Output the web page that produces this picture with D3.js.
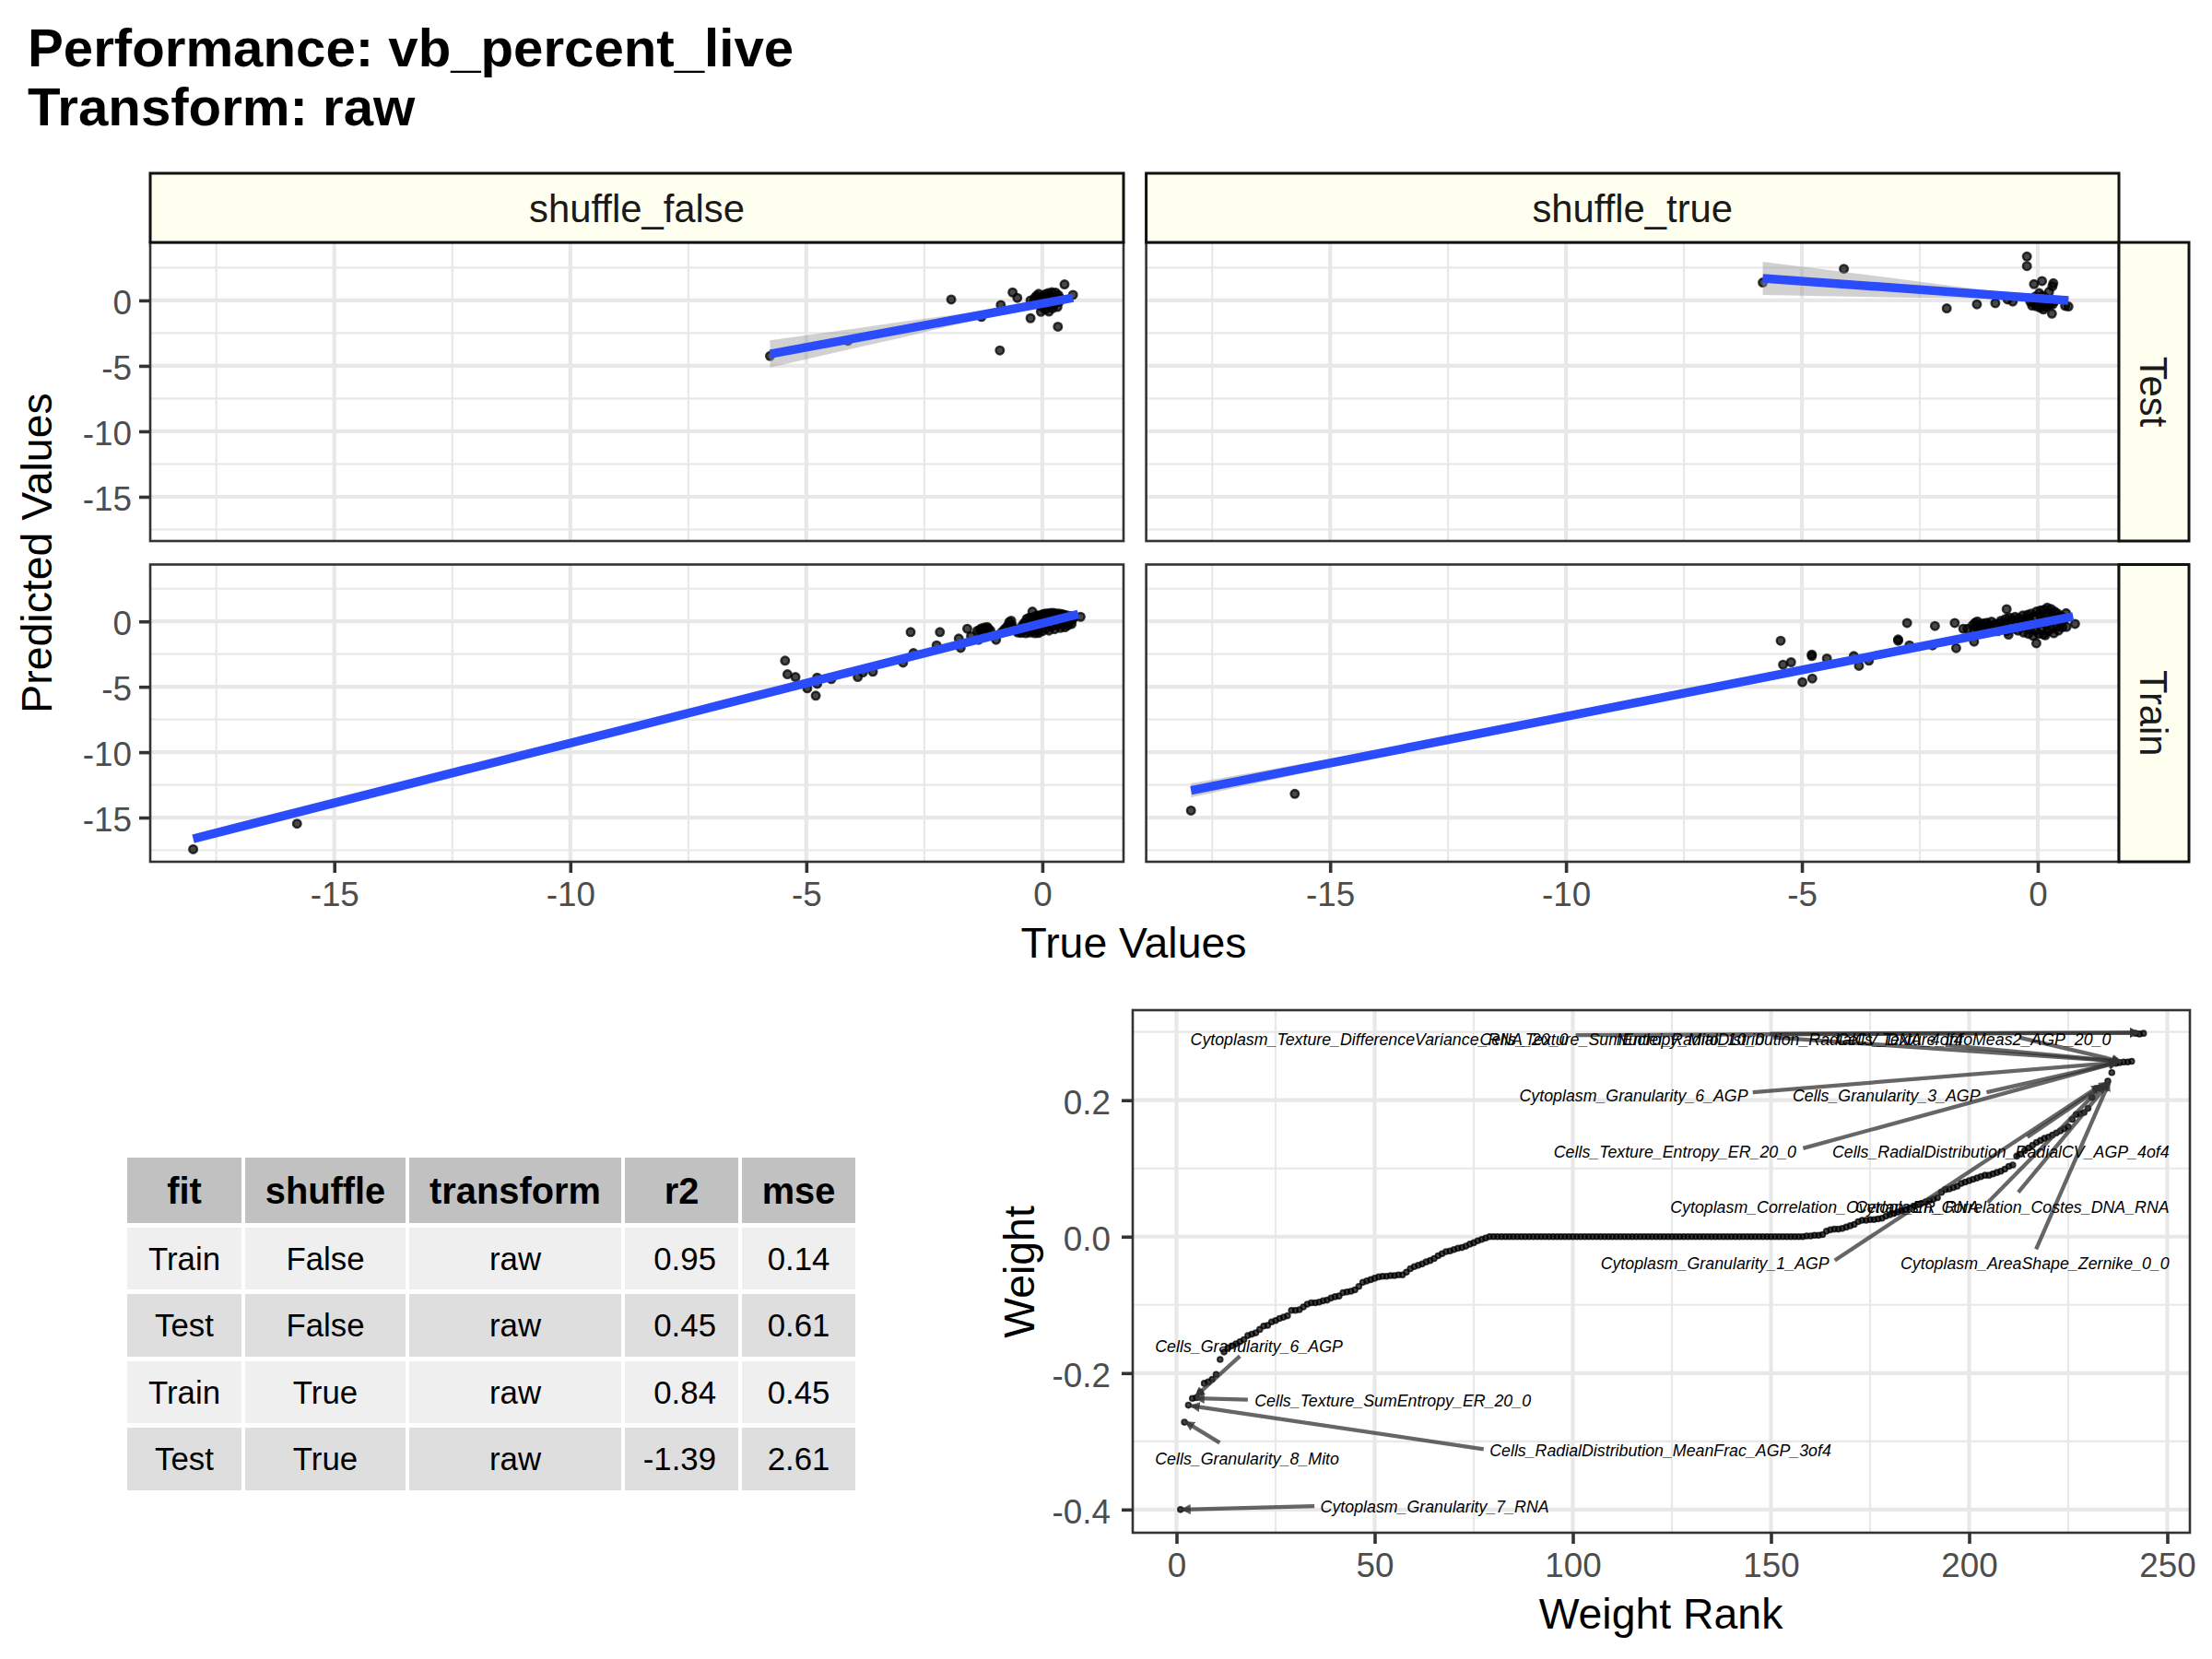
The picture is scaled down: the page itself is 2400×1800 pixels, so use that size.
<!DOCTYPE html>
<html>
<head>
<meta charset="utf-8">
<script src="https://cdn.jsdelivr.net/npm/d3@7"></script>
<style>
  body { margin: 0; background: #fff; }
  text { font-family: "Liberation Sans", Arial, sans-serif; }
  .tick text { fill: #4d4d4d; }
  .tick line { stroke: #333; }
  .domain { display: none; }
</style>
</head>
<body>
<svg id="vis" width="2400" height="1800"></svg>
<script>
// facets
let columns = ["shuffle_false", "shuffle_true"];
let rows = ["Test", "Train"];

let xMajor = [-15, -10, -5, 0];
let xMinor = [-17.5, -12.5, -7.5, -2.5];
let yMajor = [0, -5, -10, -15];
let yMinor = [2.5, -2.5, -7.5, -12.5, -17.5];

// [true, predicted]
let testFalsePoints = [[-5.77,-4.25],[-4.12,-3.09],[-1.93,0.07],[-1.29,-1.26],[-0.90,-3.82],[-0.88,-0.35],[-0.63,0.61],[-0.53,0.19],[-0.25,-1.36],[-0.25,0.0],[-0.03,-0.87],[0.33,-2.01],[0.47,1.22],[0.65,0.42],
  [-0.18,-0.05],[-0.16,0.2],[-0.12,0.35],[-0.10,-0.3],[-0.08,0.5],[-0.05,0.1],[-0.03,-0.45],[0.0,0.28],[0.02,-0.15],[0.05,0.45],[0.06,-0.7],[0.08,0.15],[0.1,-0.35],[0.12,0.55],[0.14,-0.85],[0.16,0.3],[0.18,-0.1],[0.2,0.62],[0.22,-0.6],[0.24,0.2],[0.26,-0.3],[0.28,0.6],[0.3,0.05],[0.32,-0.5],[0.34,0.4],[0.36,-0.1],[0.38,0.15]];
let testTruePoints = [[-5.83,1.36],[-4.11,2.41],[-1.93,-0.61],[-1.29,-0.30],[-0.90,-0.21],[-0.64,0.07],[-0.53,-0.09],[-0.23,3.35],[-0.23,2.62],[-0.08,1.24],[0.09,1.48],[0.33,1.31],[0.31,1.08],[0.24,0.66],[0.30,-1.01],[0.65,-0.47],[0.58,-0.42],
  [-0.16,-0.1],[-0.12,-0.4],[-0.10,0.05],[-0.07,-0.25],[-0.05,0.3],[-0.03,-0.45],[0.0,0.15],[0.02,-0.2],[0.03,0.55],[0.05,-0.55],[0.07,0.1],[0.09,-0.35],[0.1,0.35],[0.12,-0.7],[0.14,-0.1],[0.16,0.2],[0.18,-0.5],[0.2,-0.2],[0.22,0.05],[0.25,-0.35],[0.28,-0.15],[0.32,-0.3],[0.36,-0.05]];
let trainFalsePoints = [[-17.99,-17.42],[-15.79,-15.47],[-5.45,-3.0],[-5.40,-4.04],[-5.23,-4.25],[-4.98,-5.12],[-4.80,-5.68],[-4.77,-4.77],[-4.77,-4.3],[-4.47,-4.41],[-3.91,-4.25],[-3.8,-3.9],[-3.59,-3.85],[-2.95,-3.15],[-2.79,-0.82],[-2.73,-2.42],[-2.24,-1.83],[-2.17,-0.82],[-1.77,-1.31],[-1.73,-2.02],[-1.59,-0.56],[-1.51,-1.13],[-1.35,-1.41],[-0.98,-1.41],[-0.21,0.75],[-0.08,-0.89],[0.81,0.35],
  [-1.38,-0.72],[-1.33,-0.66],[-1.30,-0.55],[-1.27,-0.75],[-1.24,-0.48],[-1.20,-0.60],[-1.17,-0.42],[-1.14,-0.55],[-1.10,-0.70],[-0.86,-0.82],[-0.80,-0.60],[-0.76,-0.45],[-0.72,-0.30],[-0.70,-0.05],[-0.66,0.05],[-0.64,-0.30],[-0.60,-0.55],[-0.56,-0.72],
  [-0.52,-0.85],[-0.48,-0.6],[-0.45,-0.88],[-0.42,-0.3],[-0.4,-0.7],[-0.38,-0.1],[-0.35,-0.9],[-0.33,0.2],[-0.3,-0.5],[-0.28,0.28],[-0.26,-0.85],[-0.24,-0.2],[-0.22,0.3],[-0.2,-0.7],[-0.18,0.1],[-0.16,-0.9],[-0.14,0.4],[-0.12,-0.4],[-0.1,0.45],[-0.08,-0.7],[-0.06,0.2],[-0.04,-0.25],[-0.02,0.5],[0.0,-0.75],[0.02,0.55],[0.04,-0.1],[0.06,0.6],[0.08,-0.55],[0.1,0.3],[0.12,0.62],[0.14,-0.7],[0.16,0.1],[0.18,0.65],[0.2,-0.4],[0.22,0.4],[0.24,0.65],[0.26,-0.6],[0.28,0.2],[0.3,0.6],[0.32,-0.3],[0.34,0.45],[0.36,0.6],[0.38,-0.5],[0.4,0.05],[0.42,0.55],[0.44,-0.2],[0.46,0.5],[0.48,-0.45],[0.5,0.25],[0.52,0.45],[0.54,-0.3],[0.56,0.1],[0.58,-0.1],[0.6,0.4],[0.62,-0.2],[0.64,0.15],[0.66,0.3]];
let trainTruePoints = [[-17.95,-14.46],[-15.75,-13.19],[-5.45,-1.48],[-5.40,-3.31],[-5.23,-3.12],[-4.99,-4.65],[-4.78,-4.37],[-4.79,-2.54],[-4.79,-2.65],[-4.47,-2.84],[-3.9,-2.65],[-3.79,-3.4],[-3.58,-3.0],[-2.96,-1.48],[-2.96,-1.38],[-2.77,-0.12],[-2.72,-1.83],[-2.23,-1.83],[-2.18,-0.35],[-1.76,-0.12],[-1.73,-2.04],[-1.58,-0.56],[-1.49,-0.56],[-1.35,-1.55],[-0.66,0.94],[-0.62,-1.01],[-0.03,-1.67],[0.16,-1.06],[0.6,0.63],[0.61,-0.42],[0.79,-0.19],
  [-1.38,-0.3],[-1.35,-0.6],[-1.33,-0.1],[-1.3,-0.45],[-1.28,0.0],[-1.25,-0.7],[-1.22,-0.25],[-1.18,-0.55],[-1.15,-0.15],[-1.12,-0.4],[-1.08,-0.1],[-1.05,-0.65],[-1.02,-0.3],[-0.98,-0.02],[-0.95,-0.55],[-0.9,-0.2],[-0.85,-0.75],[-0.8,-0.15],[-0.78,0.05],[-0.74,-0.5],[-0.7,-0.2],[-0.68,0.2],[-0.65,-0.75],[-0.6,0.3],[-0.58,-0.3],[-0.55,0.15],[-0.5,-0.55],[-0.48,0.35],[-0.45,-0.1],[-0.42,-0.7],[-0.4,0.25],[-0.38,0.05],[-0.35,-0.45],[-0.32,0.45],[-0.3,-0.85],[-0.28,0.1],[-0.25,-0.35],[-0.22,0.5],[-0.2,-0.95],[-0.18,0.2],[-0.16,-0.6],[-0.14,0.6],[-0.12,-0.15],[-0.1,-1.1],[-0.08,0.35],[-0.05,-0.7],[-0.03,0.75],[0.0,-0.2],[0.02,-0.95],[0.04,0.5],[0.06,0.85],[0.08,-0.5],[0.1,0.15],[0.12,-1.0],[0.14,0.9],[0.16,0.45],[0.18,-0.3],[0.2,1.05],[0.22,-0.75],[0.24,0.6],[0.26,0.0],[0.28,0.95],[0.3,-0.55],[0.32,0.4],[0.34,-0.9],[0.36,0.75],[0.38,0.15],[0.4,-0.4],[0.42,0.6],[0.44,-0.7],[0.46,0.3],[0.48,-0.15],[0.5,0.4],[0.52,-0.45],[0.55,0.1]];

// smooth line ends and ribbons [true, lower, upper]
let testFalseLine = [[-5.77,-4.1],[0.65,0.2]];
let testTrueLine = [[-5.83,1.69],[0.65,0.0]];
let trainFalseLine = [[-17.99,-16.62],[0.76,0.56]];
let trainTrueLine = [[-17.95,-12.93],[0.75,0.38]];
let testFalseBand = [[-5.77,-5.13,-3.05],[-4,-3.67,-2.17],[-3,-2.85,-1.65],[-2,-2.0,-1.16],[-1,-1.19,-0.65],[0,-0.34,0.0],[0.65,-0.02,0.42]];
let testTrueBand = [[-5.83,0.42,2.95],[-4,0.29,2.13],[-3,0.23,1.67],[-2,0.19,1.19],[-1,0.13,0.73],[0,-0.01,0.35],[0.65,-0.25,0.25]];
let trainFalseBand = [[-17.99,-16.8,-16.45],[-15,-14.02,-13.74],[-10,-9.4,-9.2],[-5,-4.79,-4.65],[0,-0.19,-0.09],[0.76,0.48,0.64]];
let trainTrueBand = [[-17.95,-13.47,-12.39],[-15,-11.16,-10.5],[-10,-7.42,-7.12],[-5,-3.78,-3.64],[0,-0.2,-0.1],[0.75,0.3,0.46]];

let tableHead = ["fit", "shuffle", "transform", "r2", "mse"];
let tableRows = [
  ["Train", "False", "raw", "0.95", "0.14"],
  ["Test", "False", "raw", "0.45", "0.61"],
  ["Train", "True", "raw", "0.84", "0.45"],
  ["Test", "True", "raw", "-1.39", "2.61"]
];

// weight plot, index + 1 = rank
let weightValues = [-0.4,-0.272,-0.247,-0.237,-0.236,-0.228,-0.215,-0.213,-0.209,-0.202,-0.18,-0.169,-0.163,-0.16,-0.157,-0.154,-0.151,-0.145,-0.143,-0.141,
  -0.136,-0.131,-0.13,-0.125,-0.123,-0.12,-0.118,-0.116,-0.108,-0.108,-0.107,-0.103,-0.099,-0.097,-0.097,-0.096,-0.094,-0.093,-0.09,-0.088,
  -0.087,-0.082,-0.081,-0.08,-0.078,-0.073,-0.067,-0.065,-0.063,-0.061,-0.059,-0.058,-0.058,-0.057,-0.057,-0.056,-0.056,-0.052,-0.047,-0.044,
  -0.042,-0.04,-0.037,-0.035,-0.032,-0.028,-0.025,-0.022,-0.021,-0.019,-0.017,-0.016,-0.014,-0.011,-0.009,-0.006,-0.004,-0.002,0,0,
  0,0,0,0,0,0,0,0,0,0,0,0,0,0,0,0,0,0,0,0,
  0,0,0,0,0,0,0,0,0,0,0,0,0,0,0,0,0,0,0,0,
  0,0,0,0,0,0,0,0,0,0,0,0,0,0,0,0,0,0,0,0,
  0,0,0,0,0,0,0,0,0,0,0,0,0,0,0,0,0,0,0.001,0.001,
  0.002,0.002,0.003,0.008,0.01,0.011,0.011,0.012,0.014,0.016,0.018,0.022,0.024,0.024,0.025,0.025,0.026,0.027,0.03,0.032,
  0.034,0.036,0.038,0.04,0.042,0.045,0.047,0.049,0.051,0.053,0.055,0.057,0.065,0.069,0.07,0.072,0.074,0.078,0.08,0.082,
  0.084,0.086,0.088,0.09,0.09,0.092,0.094,0.096,0.099,0.103,0.105,0.118,0.121,0.126,0.13,0.134,0.138,0.141,0.144,0.146,
  0.149,0.152,0.155,0.158,0.161,0.172,0.179,0.18,0.182,0.188,0.204,0.217,0.218,0.22,0.228,0.2405,0.254,0.255,0.256,0.256,
  0.257,0.298,0.297,0.298];

let weightXMajor = [0, 50, 100, 150, 200, 250];
let weightXMinor = [25, 75, 125, 175, 225];
let weightYMajor = [-0.4, -0.2, 0, 0.2];
let weightYMinor = [-0.3, -0.1, 0.1, 0.3];

// label text, rank and weight where the text sits, anchor
let weightLabels = [
  ["Cytoplasm_Texture_DifferenceVariance_RNA_20_0", 3.5, 0.2892, "start"],
  ["Cells_Texture_SumEntropy_Mito_10_0", 76.5, 0.2892, "start"],
  ["Nuclei_RadialDistribution_RadialCV_DNA_4of4", 111, 0.2892, "start"],
  ["Cells_Texture_InfoMeas2_AGP_20_0", 166.5, 0.2892, "start"],
  ["Cytoplasm_Granularity_6_AGP", 144.2, 0.2065, "end"],
  ["Cells_Granularity_3_AGP", 202.8, 0.2065, "end"],
  ["Cells_Texture_Entropy_ER_20_0", 156.4, 0.1245, "end"],
  ["Cells_RadialDistribution_RadialCV_AGP_4of4", 250.5, 0.1245, "end"],
  ["Cytoplasm_Correlation_Overlap_ER_RNA", 202.5, 0.0425, "end"],
  ["Cytoplasm_Correlation_Costes_DNA_RNA", 250.5, 0.0425, "end"],
  ["Cytoplasm_Granularity_1_AGP", 164.7, -0.0395, "end"],
  ["Cytoplasm_AreaShape_Zernike_0_0", 250.5, -0.0395, "end"],
  ["Cells_Granularity_6_AGP", -5.4, -0.1615, "start"],
  ["Cells_Texture_SumEntropy_ER_20_0", 19.7, -0.2405, "start"],
  ["Cells_RadialDistribution_MeanFrac_AGP_3of4", 79, -0.3135, "start"],
  ["Cells_Granularity_8_Mito", -5.4, -0.3255, "start"],
  ["Cytoplasm_Granularity_7_RNA", 36.3, -0.3965, "start"]
];

// segment from label to point: rank, weight, rank, weight
let weightSegments = [
  [100.7,0.2953,242.6,0.2989],
  [149.7,0.2975,242.6,0.2989],
  [150.6,0.2921,238.2,0.2569],
  [194,0.2808,238.2,0.2569],
  [212.6,0.2921,238.2,0.2569],
  [145.4,0.2117,237.3,0.2551],
  [204.4,0.2117,237.3,0.2551],
  [158.1,0.1296,237.3,0.2551],
  [214.7,0.146,234.9,0.2257],
  [212.4,0.0649,235.3,0.2257],
  [204.7,0.05,234.1,0.2234],
  [166.1,-0.0347,233,0.2212],
  [216.9,-0.0185,235.3,0.2257],
  [16,-0.175,5,-0.233],
  [18,-0.239,5,-0.237],
  [77.5,-0.3115,3.8,-0.248],
  [10.9,-0.302,2.4,-0.272],
  [34.8,-0.395,1.5,-0.4]
];

let svg = d3.select("#vis");
let grid = "#e8e8e8";
let ink = "#333";

svg.append("defs").append("marker")
  .attr("id", "head")
  .attr("viewBox", "0 0 10 10")
  .attr("refX", 8).attr("refY", 5)
  .attr("markerUnits", "userSpaceOnUse")
  .attr("markerWidth", 11).attr("markerHeight", 11)
  .attr("orient", "auto")
  .append("path").attr("d", "M0,0L10,5L0,10z").attr("fill", "#333").attr("opacity", 0.8);

// title
let title = svg.append("g").attr("font-weight", "bold").attr("font-size", 58.2).attr("fill", "#000");
title.append("text").attr("x", 30).attr("y", 72).text("Performance: vb_percent_live");
title.append("text").attr("x", 30).attr("y", 136).text("Transform: raw");

function gridLines(g, x, y, xMaj, xMin, yMaj, yMin, box) {
  g.selectAll(".hmin").data(yMin).enter().append("line")
    .attr("x1", box.left).attr("x2", box.right).attr("y1", y).attr("y2", y)
    .attr("stroke", grid).attr("stroke-width", 2.2);
  g.selectAll(".vmin").data(xMin).enter().append("line")
    .attr("y1", box.top).attr("y2", box.bottom).attr("x1", x).attr("x2", x)
    .attr("stroke", grid).attr("stroke-width", 2.2);
  g.selectAll(".hmaj").data(yMaj).enter().append("line")
    .attr("x1", box.left).attr("x2", box.right).attr("y1", y).attr("y2", y)
    .attr("stroke", grid).attr("stroke-width", 4.2);
  g.selectAll(".vmaj").data(xMaj).enter().append("line")
    .attr("y1", box.top).attr("y2", box.bottom).attr("x1", x).attr("x2", x)
    .attr("stroke", grid).attr("stroke-width", 4.2);
}

function border(box) {
  svg.append("rect")
    .attr("x", box.left).attr("y", box.top)
    .attr("width", box.right - box.left).attr("height", box.bottom - box.top)
    .attr("fill", "none").attr("stroke", ink).attr("stroke-width", 2.6);
}

function dots(g, data, x, y, r, w) {
  g.selectAll(".dot").data(data).enter().append("circle")
    .attr("cx", d => x(d[0])).attr("cy", d => y(d[1]))
    .attr("r", r)
    .attr("fill", "#000").attr("fill-opacity", 0.72)
    .attr("stroke", "#000").attr("stroke-opacity", 0.75).attr("stroke-width", w);
}

function styleAxis(g, size) {
  g.selectAll(".tick text").attr("font-size", size);
  g.selectAll(".tick line").attr("stroke-width", 3.6);
}

let facets = [
  {col: 0, row: 0, pts: testFalsePoints, line: testFalseLine, band: testFalseBand},
  {col: 1, row: 0, pts: testTruePoints, line: testTrueLine, band: testTrueBand},
  {col: 0, row: 1, pts: trainFalsePoints, line: trainFalseLine, band: trainFalseBand},
  {col: 1, row: 1, pts: trainTruePoints, line: trainTrueLine, band: trainTrueBand}
];
let colBox = [{left: 163, right: 1219}, {left: 1243.6, right: 2299}];
let rowBox = [{top: 263, bottom: 587}, {top: 612.5, bottom: 935}];
let rowTop = [4.43, 4.35];

facets.forEach(f => {
  let box = {left: colBox[f.col].left, right: colBox[f.col].right, top: rowBox[f.row].top, bottom: rowBox[f.row].bottom};
  let x = d3.scaleLinear().domain([-18.9, 1.72]).range([box.left, box.right]);
  let y = d3.scaleLinear().domain([-18.38, rowTop[f.row]]).range([box.bottom, box.top]);
  let g = svg.append("g");
  gridLines(g, x, y, xMajor, xMinor, yMajor, yMinor, box);
  dots(g, f.pts, x, y, 4.3, 2.4);
  let area = d3.area().x(d => x(d[0])).y0(d => y(d[1])).y1(d => y(d[2]));
  g.append("path").attr("d", area(f.band)).attr("fill", "#999").attr("fill-opacity", 0.45);
  g.append("path").attr("d", d3.line().x(d => x(d[0])).y(d => y(d[1]))(f.line))
    .attr("fill", "none").attr("stroke", "#2a4cfb").attr("stroke-width", 9.5);
  if (f.col == 0) {
    let a = svg.append("g").attr("transform", `translate(${box.left},0)`)
      .call(d3.axisLeft(y).tickValues(yMajor).tickSize(12).tickPadding(8));
    styleAxis(a, 36.8);
    a.selectAll(".tick text").attr("dy", "0.4em");
  }
  if (f.row == 1) {
    let a = svg.append("g").attr("transform", `translate(0,${box.bottom})`)
      .call(d3.axisBottom(x).tickValues(xMajor).tickSize(12).tickPadding(10));
    styleAxis(a, 36.8);
  }
  border(box);
});

// strips
columns.forEach((c, i) => {
  svg.append("rect").attr("x", colBox[i].left).attr("y", 188)
    .attr("width", colBox[i].right - colBox[i].left).attr("height", 75)
    .attr("fill", "#fffff0").attr("stroke", "#111").attr("stroke-width", 3);
  svg.append("text").attr("x", (colBox[i].left + colBox[i].right) / 2).attr("y", 241)
    .attr("text-anchor", "middle").attr("font-size", 41.8).attr("fill", "#1a1a1a").text(c);
});
rows.forEach((r, i) => {
  svg.append("rect").attr("x", 2299).attr("y", rowBox[i].top)
    .attr("width", 76).attr("height", rowBox[i].bottom - rowBox[i].top)
    .attr("fill", "#fffff0").attr("stroke", "#111").attr("stroke-width", 3);
  let mid = (rowBox[i].top + rowBox[i].bottom) / 2;
  svg.append("text").attr("transform", `translate(2322,${mid}) rotate(90)`)
    .attr("text-anchor", "middle").attr("font-size", 41.8).attr("fill", "#1a1a1a").text(r);
});

svg.append("text").attr("transform", "translate(56,600) rotate(-90)")
  .attr("text-anchor", "middle").attr("font-size", 46.4).text("Predicted Values");
svg.append("text").attr("x", 1230).attr("y", 1039)
  .attr("text-anchor", "middle").attr("font-size", 46.4).text("True Values");

// table
let tableX = [[138, 262], [266, 440], [444, 674], [678, 801], [805, 928]];
let tableY = [[1256, 1327], [1332, 1399], [1404, 1472], [1477, 1544], [1549, 1617]];
let tableFill = ["#c1c1c1", "#efefef", "#dedede", "#efefef", "#dedede"];
[tableHead].concat(tableRows).forEach((row, r) => {
  row.forEach((cell, c) => {
    svg.append("rect").attr("x", tableX[c][0]).attr("y", tableY[r][0])
      .attr("width", tableX[c][1] - tableX[c][0]).attr("height", tableY[r][1] - tableY[r][0])
      .attr("fill", tableFill[r]);
    let t = svg.append("text").attr("y", (tableY[r][0] + tableY[r][1]) / 2 + (r == 0 ? 14.5 : 12))
      .attr("font-size", r == 0 ? 39.8 : 34.8).attr("font-weight", r == 0 ? "bold" : "normal").text(cell);
    if (r > 0 && c == 3) {
      t.attr("x", 777).attr("text-anchor", "end");
    } else {
      t.attr("x", (tableX[c][0] + tableX[c][1]) / 2).attr("text-anchor", "middle");
    }
  });
});

// weight rank plot
let wBox = {left: 1229, right: 2376, top: 1096, bottom: 1663};
let wx = d3.scaleLinear().domain([-11.05, 255.7]).range([wBox.left, wBox.right]);
let wy = d3.scaleLinear().domain([-0.434, 0.332]).range([wBox.bottom, wBox.top]);
let wg = svg.append("g");
gridLines(wg, wx, wy, weightXMajor, weightXMinor, weightYMajor, weightYMinor, wBox);
dots(wg, weightValues.map((v, i) => [i + 1, v]), wx, wy, 2.9, 1.8);

wg.selectAll(".seg").data(weightSegments).enter().append("line")
  .attr("x1", d => wx(d[0])).attr("y1", d => wy(d[1]))
  .attr("x2", d => wx(d[2])).attr("y2", d => wy(d[3]))
  .attr("stroke", "#333").attr("stroke-opacity", 0.75).attr("stroke-width", 4.3)
  .attr("marker-end", "url(#head)");

wg.selectAll(".lab").data(weightLabels).enter().append("text")
  .attr("x", d => wx(d[1])).attr("y", d => wy(d[2]))
  .attr("dy", 6)
  .attr("text-anchor", d => d[3])
  .attr("font-size", 17.8).attr("font-style", "italic").attr("fill", "#000")
  .text(d => d[0]);

let wa = svg.append("g").attr("transform", `translate(${wBox.left},0)`)
  .call(d3.axisLeft(wy).tickValues(weightYMajor).tickFormat(d3.format(".1f")).tickSize(12).tickPadding(12));
styleAxis(wa, 36.8);
wa.selectAll(".tick text").attr("dy", "0.4em");
let wb = svg.append("g").attr("transform", `translate(0,${wBox.bottom})`)
  .call(d3.axisBottom(wx).tickValues(weightXMajor).tickSize(12).tickPadding(10));
styleAxis(wb, 36.8);
border(wBox);

svg.append("text").attr("transform", "translate(1122,1380) rotate(-90)")
  .attr("text-anchor", "middle").attr("font-size", 46.4).text("Weight");
svg.append("text").attr("x", 1802).attr("y", 1767)
  .attr("text-anchor", "middle").attr("font-size", 46.4).text("Weight Rank");

// d3 writes a unicode minus, the reference has a plain hyphen
svg.selectAll(".tick text").text(function() { return d3.select(this).text().replace("\u2212", "-"); });
</script>
</body>
</html>
